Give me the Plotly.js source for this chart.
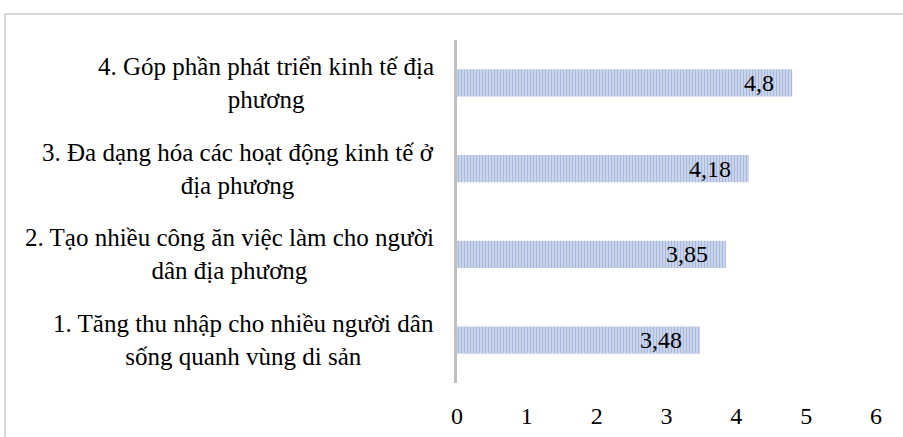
<!DOCTYPE html>
<html>
<head>
<meta charset="utf-8">
<script src="https://cdn.plot.ly/plotly-3.0.1.min.js"></script>
<style>
  html, body { margin: 0; padding: 0; background: #ffffff; overflow: hidden; }
  #frame { position: absolute; left: 4px; top: 13px; width: 1200px; height: 1200px; border: 2px solid #d9d9d9; box-sizing: border-box; }
  #chart { position: absolute; left: 0; top: 0; width: 903px; height: 437px; }
</style>
</head>
<body>
<div id="frame"></div>
<div id="chart"></div>
<script>
const categories = [
  "1. Tăng thu nhập cho nhiều người dân<br>sống quanh vùng di sản",
  "2. Tạo nhiều công ăn việc làm cho người<br>dân địa phương",
  "3. Đa dạng hóa các hoạt động kinh tế ở<br>địa phương",
  "4. Góp phần phát triển kinh tế địa<br>phương"
];
const values = [3.48, 3.85, 4.18, 4.8];
const valueLabels = ["3,48", "3,85", "4,18", "4,8"];
const xTicks = [0, 1, 2, 3, 4, 5, 6];

const FONT = "Liberation Serif";

const trace = {
  type: "bar",
  orientation: "h",
  x: values,
  y: categories,
  marker: {
    color: "#ccd7ed",
    line: { width: 0 },
    pattern: { shape: "|", fgcolor: "#a9b9de", bgcolor: "#d1daee", size: 3, solidity: 0.45 }
  },
  hoverinfo: "skip"
};

const annotations = [];
categories.forEach((c, i) => {
  annotations.push({
    xref: "paper", yref: "y", x: -0.05, y: c,
    xanchor: "right", yanchor: "middle", align: "center",
    text: c, showarrow: false,
    font: { family: FONT, size: 25, color: "#000000" }
  });
  annotations.push({
    xref: "x", yref: "y", x: values[i], y: c,
    xanchor: "right", yanchor: "middle", xshift: -16,
    text: valueLabels[i], showarrow: false,
    font: { family: FONT, size: 24, color: "#000000" }
  });
});

const layout = {
  width: 903, height: 437,
  margin: { l: 457, r: 27, t: 40, b: 54, pad: 0 },
  paper_bgcolor: "rgba(0,0,0,0)",
  plot_bgcolor: "rgba(0,0,0,0)",
  showlegend: false,
  bargap: 0.68,
  font: { family: FONT, size: 24, color: "#000000" },
  xaxis: {
    range: [0, 6], tickvals: xTicks, ticktext: xTicks.map(String),
    showgrid: false, zeroline: false, showline: false, ticks: "",
    ticklabelstandoff: 16,
    tickfont: { family: FONT, size: 24, color: "#000000" },
    fixedrange: true
  },
  yaxis: {
    type: "category", showticklabels: false, showgrid: false, zeroline: false,
    showline: true, linecolor: "#bfbfbf", linewidth: 3, ticks: "",
    fixedrange: true
  },
  annotations: annotations
};

Plotly.newPlot("chart", [trace], layout, { displayModeBar: false, staticPlot: true });
</script>
</body>
</html>
